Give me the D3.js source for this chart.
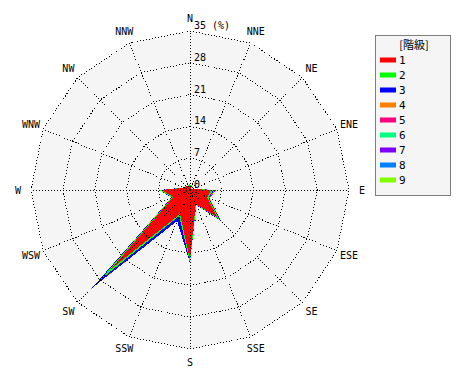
<!DOCTYPE html>
<html><head><meta charset="utf-8">
<script src="https://cdn.jsdelivr.net/npm/d3@7"></script>
<style>body{margin:0;background:#fff}svg{display:block}</style>
</head><body>
<svg id="c" width="470" height="380"></svg>
<script>
const directions = ["N","NNE","NE","ENE","E","ESE","SE","SSE","S","SSW","SW","WSW","W","WNW","NW","NNW"];
const classes = ["1","2","3","4","5","6","7","8","9"];
const classColors = ["#ff0000","#00ff00","#0000ff","#ff8000","#ff0080","#00ff80","#8000ff","#0080ff","#80ff00"];
const radialTicks = [0,7,14,21,28,35];
// frequency (%) per class, per direction (N, NNE, ... NNW)
const class1 = [1.3,0.6,0.4,0.6,4.6,4.1,8.5,3.3,15.4,5.7,24.5,4.0,6.3,1.3,1.2,1.0];
const class2 = [0.1,0.0,0.0,0.1,0.5,0.3,0.6,0.2,0.6,0.5,3.3,0.3,0.4,0.1,0.05,0.05];
const class3 = [0.0,0.0,0.0,0.0,0.3,0.1,0.5,0.1,0.1,1.2,2.8,0.1,0.1,0.0,0.0,0.0];
const class4 = [0.0,0.0,0.0,0.0,0.2,0.1,0.05,0.0,0.0,0.0,0.1,0.0,0.0,0.0,0.0,0.0];
const class5 = [0.0,0.0,0.0,0.0,0.2,0.05,0.0,0.0,0.0,0.0,0.0,0.0,0.0,0.0,0.0,0.0];
const class6 = [0,0,0,0,0,0,0,0,0,0,0,0,0,0,0,0];
const class7 = [0,0,0,0,0,0,0,0,0,0,0,0,0,0,0,0];
const class8 = [0,0,0,0,0,0,0,0,0,0,0,0,0,0,0,0];
const class9 = [0,0,0,0,0,0,0,0,0,0,0,0,0,0,0,0];
const classValues = [class1,class2,class3,class4,class5,class6,class7,class8,class9];

const svg = d3.select("#c");
const cx = 190, cy = 190, R = 159;
const r = d3.scaleLinear().domain([0,35]).range([0,R]);
const ang = d3.scaleLinear().domain([0,directions.length]).range([0,2*Math.PI]);
const g = svg.append("g").attr("transform",`translate(${cx},${cy})`);
const ringLine = d3.lineRadial().angle((d,i)=>ang(i)).radius(d=>r(d)).curve(d3.curveLinearClosed);

// background
g.append("path").attr("d", ringLine(directions.map(()=>35))).attr("fill","#f5f5f5").attr("stroke","none");

// cumulative data polygons, outermost first
const cum = [];
classValues.forEach((arr,k)=>{
  cum.push(arr.map((v,i)=> v + (k>0 ? cum[k-1][i] : 0)));
});
for (let k = classValues.length-1; k >= 0; k--) {
  g.append("path").attr("d", ringLine(cum[k])).attr("fill", classColors[k]).attr("stroke","none")
    .attr("shape-rendering","crispEdges");
}

// grid
const dotted = {stroke:"#000","stroke-width":1,"stroke-dasharray":"1,2",fill:"none","shape-rendering":"crispEdges"};
radialTicks.filter(t=>t>0).forEach(t=>{
  const p = g.append("path").attr("d", ringLine(directions.map(()=>t)));
  Object.entries(dotted).forEach(([k,v])=>p.attr(k,v));
});
directions.forEach((d,i)=>{
  const a = ang(i);
  const l = g.append("line").attr("x1",0).attr("y1",0)
    .attr("x2", r(35)*Math.sin(a)).attr("y2", -r(35)*Math.cos(a));
  Object.entries(dotted).forEach(([k,v])=>l.attr(k,v));
});

// tick labels
g.selectAll(".tk").data(radialTicks).enter().append("text")
  .attr("x", 4).attr("y", d=>-r(d)-2)
  .attr("font-family","DejaVu Sans Mono").attr("font-size",10).attr("fill","#000")
  .text(d=> d===35 ? "35 (%)" : d);

// direction labels
g.selectAll(".dl").data(directions).enter().append("text")
  .attr("x",(d,i)=>172*Math.sin(ang(i)))
  .attr("y",(d,i)=>-172*Math.cos(ang(i)))
  .attr("text-anchor","middle").attr("dominant-baseline","central")
  .attr("font-family","DejaVu Sans Mono").attr("font-size",10).attr("fill","#000")
  .text(d=>d);

// legend
const lg = svg.append("g");
lg.append("rect").attr("x",375.5).attr("y",35.5).attr("width",75).attr("height",160)
  .attr("fill","#f5f5f5").attr("stroke","#000").attr("stroke-dasharray","1,1");
lg.append("text").attr("x",414).attr("y",49).attr("text-anchor","middle")
  .attr("font-family","Noto Sans CJK JP").attr("font-size",11).text("[階級]");
const ly = d3.scalePoint().domain(classes).range([60,180]);
classes.forEach((c,i)=>{
  lg.append("rect").attr("x",380).attr("y",ly(c)-2.5).attr("width",16).attr("height",5).attr("fill",classColors[i]);
  lg.append("text").attr("x",399).attr("y",ly(c)).attr("dominant-baseline","central")
    .attr("font-family","DejaVu Sans Mono").attr("font-size",11).text(c);
});
</script>
</body></html>
